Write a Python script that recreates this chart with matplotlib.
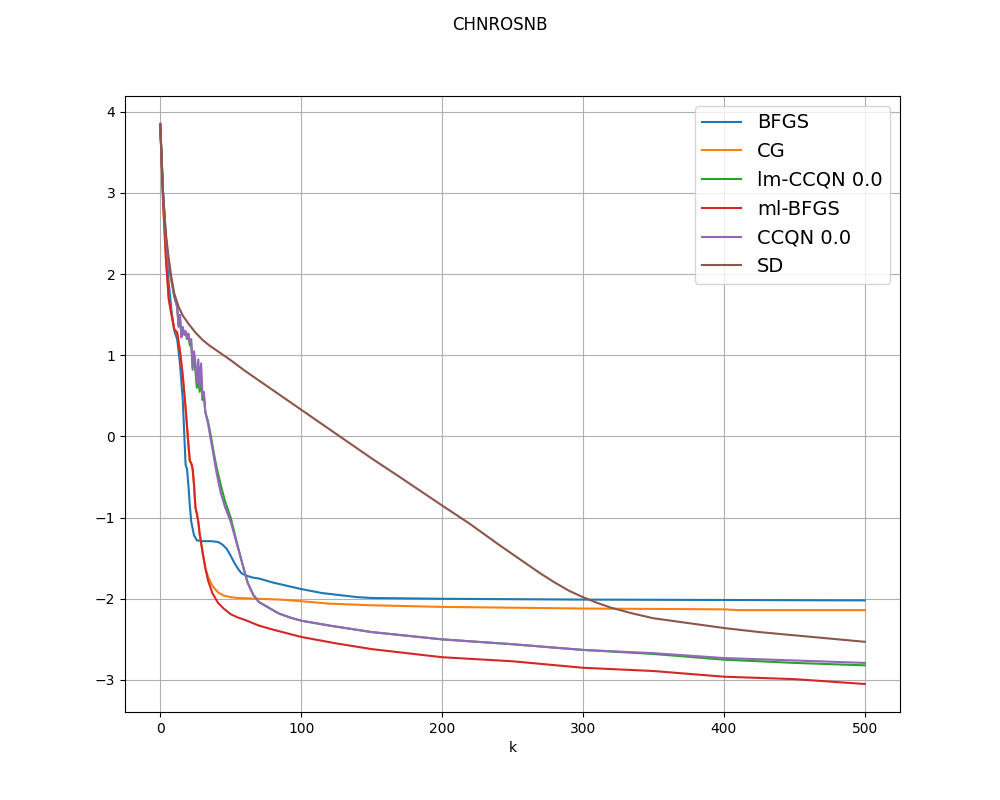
import numpy as np
import matplotlib
matplotlib.use("Agg")
import matplotlib.pyplot as plt

# values (log-scale objective vs iteration k)
k_bfgs = [0, 2, 4, 6, 8, 10, 12, 14, 16, 17, 18, 19, 20, 21, 22, 24, 26, 30, 36, 41,
          44, 47, 50, 53, 56, 58, 62, 66, 70, 80, 90, 100, 115, 130, 140, 150, 200, 250,
          300, 400, 500]
y_bfgs = [3.85, 3.0, 2.4, 1.9, 1.55, 1.3, 1.2, 0.9, 0.45, 0.05, -0.35, -0.4, -0.6,
          -0.85, -1.05, -1.22, -1.28, -1.29, -1.29, -1.30, -1.33, -1.38, -1.47, -1.57,
          -1.65, -1.69, -1.72, -1.74, -1.75, -1.80, -1.84, -1.88, -1.93, -1.96, -1.98,
          -1.99, -2.0, -2.005, -2.01, -2.015, -2.02]

k_ml = [0, 2, 4, 6, 8, 10, 12, 14, 16, 18, 20, 21, 22, 23, 24, 25, 26, 27, 28, 30,
        32, 34, 37, 41, 45, 50, 55, 60, 70, 80, 100, 125, 150, 200, 250, 300, 350,
        400, 450, 500]
y_ml = [3.85, 2.9, 2.2, 1.7, 1.5, 1.32, 1.28, 1.05, 0.75, 0.35, -0.1, -0.3, -0.33,
        -0.4, -0.6, -0.88, -0.95, -1.05, -1.2, -1.42, -1.62, -1.78, -1.93, -2.05,
        -2.12, -2.19, -2.23, -2.26, -2.33, -2.38, -2.47, -2.55, -2.62, -2.72, -2.77,
        -2.85, -2.89, -2.96, -2.99, -3.05]

k_cg = [0, 2, 4, 6, 8, 10, 12, 14, 16, 18, 20, 21, 22, 23, 24, 25, 26, 27, 28, 30,
        32, 34, 37, 41, 45, 50, 55, 70, 85, 100, 120, 150, 200, 250, 300, 400, 410, 500]
y_cg = [3.85, 2.9, 2.2, 1.7, 1.5, 1.32, 1.28, 1.05, 0.75, 0.35, -0.1, -0.3, -0.33,
        -0.4, -0.6, -0.88, -0.95, -1.05, -1.2, -1.42, -1.62, -1.73, -1.84, -1.92,
        -1.96, -1.98, -1.99, -2.0, -2.01, -2.03, -2.06, -2.08, -2.1, -2.11, -2.12,
        -2.13, -2.14, -2.14]

k_ccqn = [0, 2, 4, 6, 8, 10, 12, 13, 14, 15, 16, 17, 18, 19, 20, 21, 22, 23, 24, 25,
          26, 27, 28, 29, 30, 31, 32, 34, 36, 38, 40, 43, 46, 50, 54, 58, 62, 66, 70,
          76, 84, 92, 100, 120, 150, 200, 250, 300, 350, 400, 450, 500]
y_ccqn = [3.85, 3.0, 2.45, 2.1, 1.92, 1.72, 1.6, 1.35, 1.5, 1.22, 1.35, 1.25, 1.3,
          1.22, 1.27, 1.15, 1.2, 0.82, 1.05, 0.9, 0.65, 0.95, 0.62, 0.9, 0.5, 0.55,
          0.3, 0.15, -0.05, -0.25, -0.45, -0.7, -0.87, -1.05, -1.3, -1.55, -1.8,
          -1.95, -2.04, -2.1, -2.18, -2.23, -2.27, -2.33, -2.41, -2.5, -2.56, -2.63,
          -2.67, -2.73, -2.76, -2.79]

k_lm = [0, 2, 4, 6, 8, 10, 12, 13, 14, 15, 16, 17, 18, 19, 20, 21, 22, 23, 24, 25,
        26, 27, 28, 29, 30, 31, 32, 34, 36, 38, 40, 43, 46, 50, 54, 58, 62, 66, 70,
        76, 84, 92, 100, 120, 150, 200, 250, 300, 350, 400, 450, 500]
y_lm = [3.85, 3.0, 2.45, 2.1, 1.92, 1.72, 1.6, 1.38, 1.48, 1.25, 1.33, 1.27, 1.28,
        1.2, 1.25, 1.12, 1.15, 0.85, 1.0, 0.8, 0.6, 0.7, 0.55, 0.75, 0.45, 0.5,
        0.3, 0.18, 0.0, -0.2, -0.38, -0.6, -0.8, -1.0, -1.28, -1.55, -1.8,
        -1.95, -2.04, -2.1, -2.18, -2.23, -2.27, -2.33, -2.41, -2.5, -2.56, -2.63,
        -2.68, -2.75, -2.79, -2.82]

k_sd = [0, 2, 4, 6, 8, 10, 13, 16, 20, 25, 30, 35, 40, 45, 50, 60, 70, 85, 100, 125,
        150, 170, 200, 220, 240, 260, 270, 280, 290, 300, 310, 320, 335, 350, 375,
        400, 425, 450, 475, 500]
y_sd = [3.85, 3.0, 2.5, 2.2, 1.95, 1.76, 1.6, 1.49, 1.39, 1.28, 1.19, 1.12, 1.06,
        1.0, 0.94, 0.81, 0.69, 0.51, 0.33, 0.03, -0.27, -0.5, -0.85, -1.08, -1.33,
        -1.57, -1.69, -1.80, -1.90, -1.98, -2.05, -2.11, -2.18, -2.24, -2.30, -2.36,
        -2.41, -2.45, -2.49, -2.53]

fig = plt.figure(figsize=(10, 8), dpi=100)
ax = fig.add_subplot(111)

ax.plot(k_bfgs, y_bfgs, label="BFGS")
ax.plot(k_cg, y_cg, label="CG")
ax.plot(k_lm, y_lm, label="lm-CCQN 0.0")
ax.plot(k_ml, y_ml, label="ml-BFGS")
ax.plot(k_ccqn, y_ccqn, label="CCQN 0.0")
ax.plot(k_sd, y_sd, label="SD")

ax.grid(True)
ax.set_xlabel("k")
ax.legend(loc="upper right", fontsize=14)
fig.suptitle("CHNROSNB")

fig.savefig("out.png")
